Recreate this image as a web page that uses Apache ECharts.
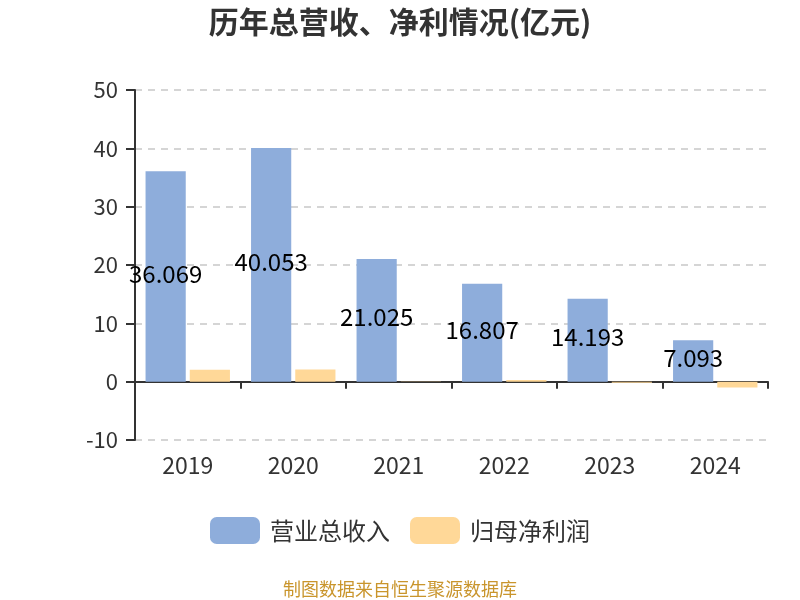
<!DOCTYPE html>
<html><head><meta charset="utf-8">
<script src="https://cdn.jsdelivr.net/npm/echarts@6/dist/echarts.min.js"></script>
<style>html,body{margin:0;padding:0;background:#fff}#c{width:800px;height:600px}</style>
</head><body><div id="c"></div>
<script>
var years = ['2019','2020','2021','2022','2023','2024'];
var revenue = [36.069, 40.053, 21.025, 16.807, 14.193, 7.093];
var netProfit = [2.05, 2.1, 0.02, 0.3, -0.2, -1.0];
var yTicks = { min: -10, max: 50, interval: 10 };
var font = '"Noto Sans CJK SC", "Noto Sans", sans-serif';

var chart = echarts.init(document.getElementById('c'));
chart.setOption({
  backgroundColor: '#fff',
  textStyle: { fontFamily: font },
  title: [{
    text: '历年总营收、净利情况(亿元)', left: 'center', top: 2,
    textStyle: { fontSize: 30, fontWeight: 'bold', color: '#333', fontFamily: font }
  }, {
    text: '制图数据来自恒生聚源数据库', left: 'center', top: 575,
    textStyle: { fontSize: 18, fontWeight: 'normal', color: '#c9952c', fontFamily: font }
  }],
  legend: {
    bottom: 51, left: 'center', itemWidth: 50, itemHeight: 27, itemGap: 20,
    textStyle: { fontSize: 24, color: '#333', fontFamily: font, padding: [0, 0, 0, 5] },
    data: ['营业总收入', '归母净利润']
  },
  grid: { left: 135, right: 32, top: 90, bottom: 160 },
  xAxis: {
    type: 'category', data: years,
    axisLine: { onZero: true, lineStyle: { color: '#333', width: 2 } },
    axisTick: { show: true, length: 7, lineStyle: { color: '#333', width: 2 } },
    axisLabel: { fontSize: 23, color: '#333', margin: 14, fontFamily: font }
  },
  yAxis: {
    type: 'value', min: yTicks.min, max: yTicks.max, interval: yTicks.interval,
    axisLine: { show: true, lineStyle: { color: '#333', width: 2 } },
    axisTick: { show: true, length: 9, lineStyle: { color: '#333', width: 2 } },
    axisLabel: { fontSize: 22, color: '#333', margin: 17, fontFamily: font },
    splitLine: { lineStyle: { type: [7, 6], color: '#c8c8c8', width: 1.5 } }
  },
  series: [{
    name: '营业总收入', type: 'bar', data: revenue,
    barGap: '10%', barCategoryGap: '20%',
    itemStyle: { color: '#8eaddb' },
    label: { show: true, position: 'inside', offset: [0, -3], color: '#000', fontSize: 24, fontFamily: font }
  }, {
    name: '归母净利润', type: 'bar', data: netProfit,
    itemStyle: { color: '#ffd898' }
  }]
});
</script></body></html>
